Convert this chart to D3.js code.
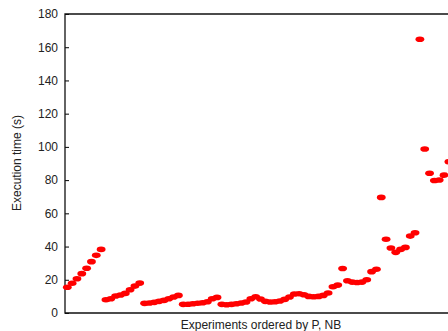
<!DOCTYPE html>
<html>
<head>
<meta charset="utf-8">
<script src="https://cdn.jsdelivr.net/npm/d3@7"></script>
<style>
  html, body { margin: 0; padding: 0; background: #fff; }
  svg { display: block; }
</style>
</head>
<body>
<div id="chart"></div>
<script>
// execution time (s) per experiment, ordered by P, NB (groups of 8)
const execTimes = [
  15.5, 17.9, 20.6, 23.7, 26.9, 30.9, 34.7, 38.3,
  8.0, 8.6, 10.2, 10.8, 11.8, 14.0, 16.2, 18.0,
  5.8, 6.0, 6.4, 7.0, 7.6, 8.6, 9.6, 10.6,
  5.2, 5.3, 5.6, 5.9, 6.2, 6.8, 8.6, 9.4,
  5.2, 5.0, 5.2, 5.6, 6.0, 6.6, 8.6, 9.8,
  8.4, 7.0, 6.6, 6.8, 7.2, 8.2, 9.6, 11.4,
  11.6, 11.0, 10.0, 9.8, 10.0, 10.6, 12.0, 15.8,
  16.8, 26.8, 19.4, 18.6, 18.4, 18.6, 20.0, 24.9,
  26.3, 69.6, 44.4, 39.1, 36.5, 38.3, 39.5, 46.3,
  48.3, 164.8, 98.7, 84.1, 79.8, 80.1, 83.0, 91.0
];
const yTicks = [0, 20, 40, 60, 80, 100, 120, 140, 160, 180];
const xTitle = 'Experiments ordered by P, NB';
const yTitle = 'Execution time (s)';

const width = 448, height = 331;
const margin = {top: 14, left: 65, bottom: 18};
const plotBottom = height - margin.bottom;

const svg = d3.select('#chart')
  .append('svg')
  .attr('width', width)
  .attr('height', height)
  .style('font-family', '"Liberation Sans", Arial, sans-serif');

const x = d3.scaleLinear()
  .domain([0, execTimes.length - 1])
  .range([67.3, 67.3 + 4.83 * (execTimes.length - 1)]);

const y = d3.scaleLinear()
  .domain([0, 180])
  .range([plotBottom, margin.top]);

// y axis, ticks pointing into the plot
const yAxis = svg.append('g')
  .attr('transform', `translate(${margin.left},0)`)
  .call(d3.axisRight(y).tickValues(yTicks).tickSize(4).tickFormat(d3.format('d')));
yAxis.select('.domain').remove();
yAxis.selectAll('line').attr('stroke', '#000');
yAxis.selectAll('text')
  .attr('x', -7)
  .attr('text-anchor', 'end')
  .attr('fill', '#222')
  .style('font-size', '12px');

// frame (right side runs past the picture edge)
svg.append('path')
  .attr('d', `M${width + 10},${margin.top}H${margin.left}V${plotBottom}H${width + 10}`)
  .attr('fill', 'none')
  .attr('stroke', '#111')
  .attr('stroke-width', 1.3);

// points
svg.append('g')
  .selectAll('ellipse')
  .data(execTimes)
  .join('ellipse')
  .attr('cx', (d, i) => x(i))
  .attr('cy', d => y(d))
  .attr('rx', 4.4)
  .attr('ry', 2.8)
  .attr('fill', '#ff0000');

// titles
svg.append('text')
  .attr('x', 261)
  .attr('y', 329)
  .attr('text-anchor', 'middle')
  .attr('fill', '#222')
  .style('font-size', '12px')
  .text(xTitle);

svg.append('text')
  .attr('transform', 'translate(21,163) rotate(-90)')
  .attr('text-anchor', 'middle')
  .attr('fill', '#222')
  .style('font-size', '12px')
  .text(yTitle);
</script>
</body>
</html>
